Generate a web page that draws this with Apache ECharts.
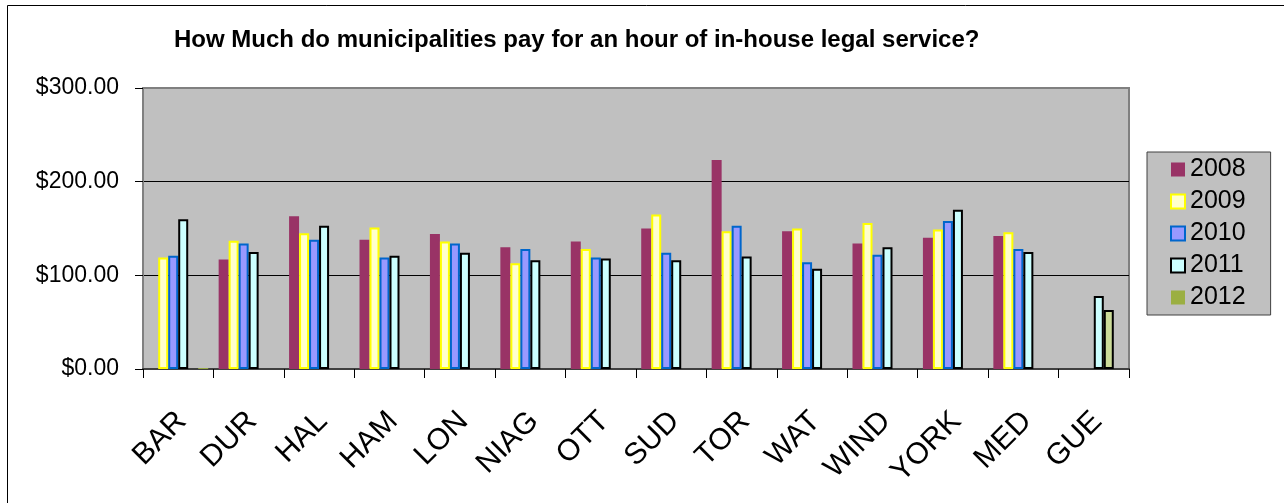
<!DOCTYPE html>
<html>
<head>
<meta charset="utf-8">
<script src="https://cdn.jsdelivr.net/npm/echarts@6/dist/echarts.min.js"></script>
<style>
  html, body { margin: 0; padding: 0; background: #fff; }
  #chart { width: 1284px; height: 503px; }
</style>
</head>
<body>
<div id="chart"></div>
<script>
// categories
var cities = ["BAR", "DUR", "HAL", "HAM", "LON", "NIAG", "OTT", "SUD", "TOR", "WAT", "WIND", "YORK", "MED", "GUE"];

// hourly rates
var rate2008 = [null, 117, 163, 138, 144, 130, 136, 150, 223, 147, 134, 140, 142, null];
var rate2009 = [119, 137, 145, 151, 136, 113, 128, 165, 147, 150, 156, 149, 146, null];
var rate2010 = [121, 134, 138, 119, 134, 128, 119, 124, 153, 114, 122, 158, 128, null];
var rate2011 = [160, 125, 153, 121, 124, 116, 118, 116, 120, 107, 130, 170, 125, 78];
// light green column (only GUE) - its legend entry was dropped in the original
var rate2012gue = [null, null, null, null, null, null, null, null, null, null, null, null, null, 63];
// the "2012" legend series, only a sliver at BAR
var rate2012 = [1, null, null, null, null, null, null, null, null, null, null, null, null, null];

var yTicks = [0, 100, 200, 300];
var legendNames = ["2008", "2009", "2010", "2011", "2012"];

var font = "'Liberation Sans', Arial, sans-serif";
var chart = echarts.init(document.getElementById("chart"));

function barSeries(name, data, fill, border, bw) {
    return {
        name: name,
        type: "bar",
        data: data,
        barWidth: 10,
        barGap: "0%",
        itemStyle: { color: fill, borderColor: border, borderWidth: bw },
    };
}

var option = {
    animation: false,
    backgroundColor: "#fff",
    title: {
        text: "How Much do municipalities pay for an hour of in-house legal service?",
        left: 174,
        top: 28,
        padding: 0,
        textStyle: { fontFamily: font, fontSize: 24, fontWeight: "bold", color: "#000" },
    },
    legend: {
        data: legendNames,
        orient: "vertical",
        left: 1147,
        top: 152,
        padding: [5, 25, 5, 23],
        itemWidth: 14,
        itemHeight: 14,
        itemGap: 7,
        icon: "rect",
        backgroundColor: "#C0C0C0",
        borderColor: "#404040",
        borderWidth: 1,
        textStyle: { fontFamily: font, fontSize: 25, lineHeight: 25, color: "#000" },
    },
    grid: {
        left: 143,
        top: 88,
        right: 155,
        bottom: 134,
        show: true,
        backgroundColor: "#C0C0C0",
        borderColor: "#808080",
        borderWidth: 2,
    },
    xAxis: {
        type: "category",
        data: cities,
        axisLine: { lineStyle: { color: "#404040", width: 2 } },
        axisTick: { show: true, length: 9, lineStyle: { color: "#000" } },
        axisLabel: {
            rotate: 45,
            margin: 30,
            verticalAlign: "top",
            padding: [0, 10, 0, 0],
            fontFamily: font,
            fontSize: 30,
            color: "#000",
        },
    },
    yAxis: {
        type: "value",
        min: yTicks[0],
        max: yTicks[yTicks.length - 1],
        interval: 100,
        axisLine: { show: true, lineStyle: { color: "#808080", width: 2 } },
        axisTick: { show: true, length: 8, lineStyle: { color: "#000" } },
        axisLabel: {
            margin: 24,
            fontFamily: font,
            fontSize: 23,
            color: "#000",
            formatter: function (v) { return "$" + v.toFixed(2); },
        },
        splitLine: { lineStyle: { color: ["#808080", "#000", "#000", "#808080"], width: 1 } },
    },
    series: [
        barSeries("2008", rate2008, "#993366", "#993366", 0),
        barSeries("2009", rate2009, "#FFFFCC", "#FFFF00", 2),
        barSeries("2010", rate2010, "#9999FF", "#0066CC", 2),
        barSeries("2011", rate2011, "#CCFFFF", "#000000", 2),
        barSeries("2012 GUE", rate2012gue, "#CCDC99", "#000000", 2),
        barSeries("2012", rate2012, "#9BAF42", "#9BAF42", 0),
    ],
    graphic: [
        {
            type: "rect",
            silent: true,
            shape: { x: 7.5, y: 5.5, width: 1300, height: 560 },
            style: { fill: "none", stroke: "#000", lineWidth: 1 },
        },
    ],
};

chart.setOption(option);

window.addEventListener("resize", function () {
    chart.resize();
});
</script>
</body>
</html>
